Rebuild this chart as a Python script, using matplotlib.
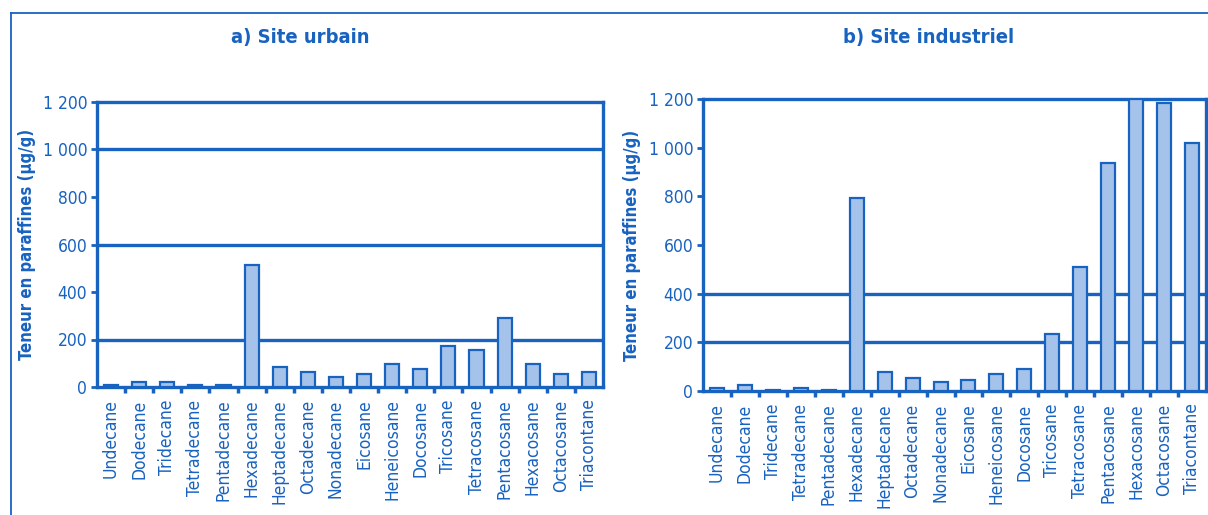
import matplotlib
matplotlib.use('Agg')
import matplotlib.pyplot as plt
from matplotlib import font_manager
from matplotlib.lines import Line2D

# Teneur en paraffines (µg/g) par composé
composes = ['Undecane', 'Dodecane', 'Tridecane', 'Tetradecane', 'Pentadecane',
            'Hexadecane', 'Heptadecane', 'Octadecane', 'Nonadecane', 'Eicosane',
            'Heneicosane', 'Docosane', 'Tricosane', 'Tetracosane', 'Pentacosane',
            'Hexacosane', 'Octacosane', 'Triacontane']
urbain = [10, 20, 20, 8, 8, 515, 86, 64, 41, 54, 95, 75, 173, 154, 292, 95, 54, 64]
industriel = [11, 25, 3, 11, 3, 795, 79, 55, 36, 45, 69, 89, 233, 511, 938, 1200, 1182, 1018]
yticks = [0, 200, 400, 600, 800, 1000, 1200]
ytick_labels = ['0', '200', '400', '600', '800', '1 000', '1 200']
grille_urbain = [200, 600, 1000]
grille_industriel = [200, 400]

BLEU = '#1862c0'
REMPLI = '#a5c3ea'

# police étroite si disponible, sinon Liberation Sans
etroites = [f for f in font_manager.fontManager.ttflist
            if ('Narrow' in f.fname or 'Condensed' in f.fname) and 'Sans' in f.name
            and 'Oblique' not in f.fname and 'Italic' not in f.fname]
normal = [f for f in etroites if 'Bold' not in f.fname]
gras = [f for f in etroites if 'Bold' in f.fname]
if normal and gras:
    P = font_manager.FontProperties(fname=normal[0].fname)
    PG = font_manager.FontProperties(fname=gras[0].fname)
else:
    P = font_manager.FontProperties(family='Liberation Sans')
    PG = font_manager.FontProperties(family='Liberation Sans', weight='bold')


def police(base, taille):
    p = base.copy()
    p.set_size(taille)
    return p


fig = plt.figure(figsize=(12.08, 5.15), dpi=100)

# cadre autour de la figure
fig.add_artist(Line2D([11 / 1208, 1.0], [1 - 13 / 515] * 2, color=BLEU, lw=1.3,
                      transform=fig.transFigure))
fig.add_artist(Line2D([11 / 1208] * 2, [0, 1 - 13 / 515], color=BLEU, lw=1.3,
                      transform=fig.transFigure))


def panneau(rect, valeurs, grille, titre, titre_x, label_x):
    ax = fig.add_axes(rect)
    x = range(len(composes))
    for g in grille:
        ax.axhline(g, color=BLEU, lw=2.4, zorder=1)
    ax.bar(x, valeurs, width=0.5, color=REMPLI, edgecolor=BLEU, linewidth=1.6, zorder=3)
    ax.set_xlim(-0.5, len(composes) - 0.5)
    ax.set_ylim(0, 1200)
    for s in ax.spines.values():
        s.set_color(BLEU)
        s.set_linewidth(2.4)
    ax.set_yticks(yticks)
    ax.set_yticklabels(ytick_labels, fontproperties=police(P, 12.5), color=BLEU)
    ax.set_xticks(list(x))
    ax.set_xticklabels(composes, rotation=90, fontproperties=police(P, 12.5), color=BLEU)
    ax.set_xticks([i + 0.5 for i in range(len(composes) - 1)], minor=True)
    ax.tick_params(axis='x', which='major', length=0, pad=9)
    ax.tick_params(axis='x', which='minor', length=4, width=2.5, color=BLEU)
    ax.tick_params(axis='y', length=4, width=2, color=BLEU, pad=3)
    ax.set_ylabel('Teneur en paraffines (µg/g)', fontproperties=police(PG, 12), color=BLEU)
    ax.yaxis.set_label_coords(label_x, 0.5)
    fig.text(titre_x, 1 - 37 / 515, titre, ha='center', va='center',
             fontproperties=police(PG, 14.5), color=BLEU)
    return ax


panneau([97 / 1208, 1 - 387 / 515, 506 / 1208, 285 / 515], urbain, grille_urbain,
        'a) Site urbain', 300 / 1208, -0.12)
panneau([703 / 1208, 1 - 391 / 515, 503 / 1208, 292 / 515], industriel, grille_industriel,
        'b) Site industriel', 929 / 1208, -0.123)

fig.savefig('out.png', dpi=100)
plt.close(fig)
